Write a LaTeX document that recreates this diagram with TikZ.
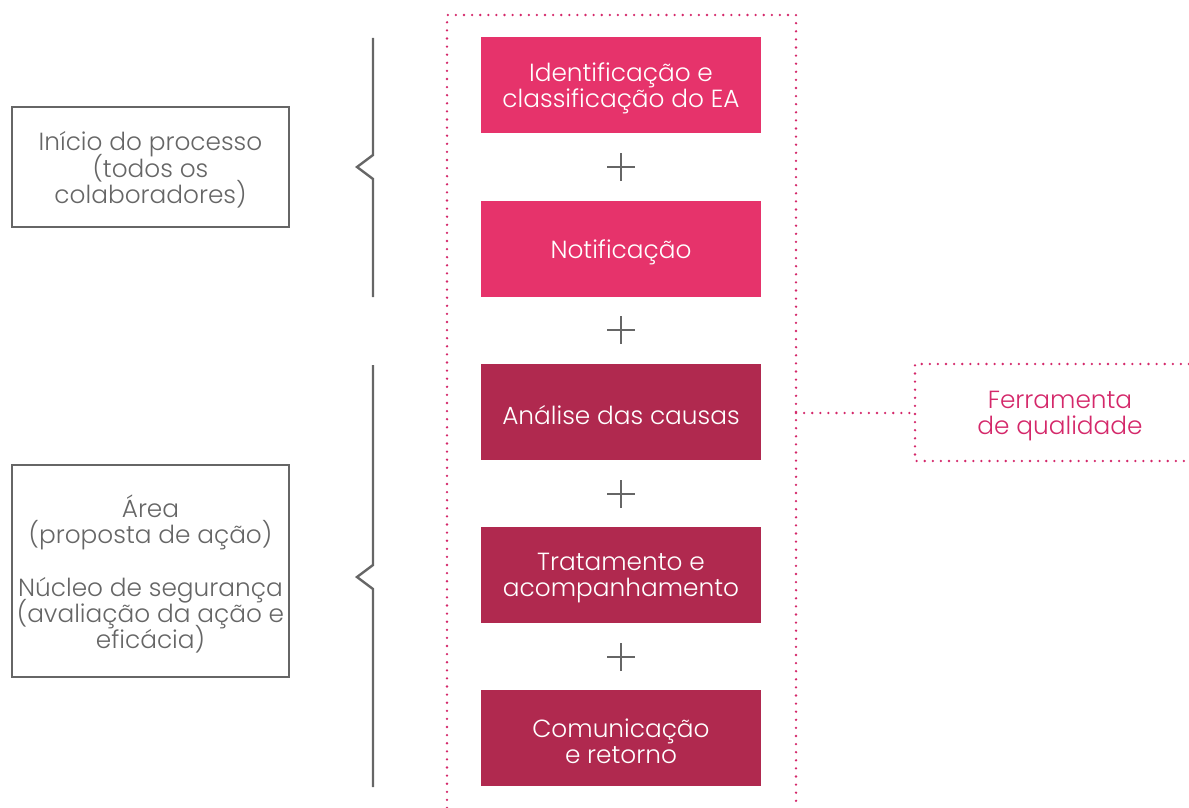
\documentclass[tikz,border=0pt]{standalone}
\usepackage{fontspec}
\setmainfont{Poppins Light}
\definecolor{pinkc}{HTML}{E6336B}
\definecolor{darkc}{HTML}{B0294F}
\definecolor{grayc}{HTML}{666666}
\definecolor{dotc}{HTML}{D4286A}
\newcommand{\fsz}{\fontsize{24.8pt}{26.3pt}\selectfont\lineskiplimit=-100pt\lineskip=0pt}
\tikzset{
  stepbox/.style={minimum width=280pt, minimum height=96pt, inner sep=0pt},
  pinkbox/.style={stepbox, fill=pinkc},
  darkbox/.style={stepbox, fill=darkc},
  steptext/.style={inner sep=0pt, align=center, text=white, font=\fsz, yshift=-3pt},
  sidebox/.style={draw=grayc, line width=2.4pt, minimum width=277pt, inner sep=0pt},
  sidetext/.style={inner sep=0pt, align=center, text=grayc, font=\fsz, yshift=-3pt},
  bracel/.style={draw=grayc, line width=2.4pt},
  plusl/.style={draw=grayc, line width=2.2pt},
  dotl/.style={draw=dotc, line width=2.6pt, line cap=round, dash pattern=on 0pt off 8.1pt},
}
\begin{document}
\begin{tikzpicture}[x=1pt,y=-1pt]
\useasboundingbox (0,0) rectangle (1189,808);
% steps
\node[pinkbox] (s1) at (621,85) {};
\node[pinkbox] (s2) at (621,249) {};
\node[darkbox] (s3) at (621,412) {};
\node[darkbox] (s4) at (621,575) {};
\node[darkbox] (s5) at (621,738) {};
\node[steptext] (t1) at (s1) {Identificação e\\classificação do EA};
\node[steptext] (t2) at (s2) {Notificação};
\node[steptext] (t3) at (s3) {Análise das causas};
\node[steptext] (t4) at (s4) {Tratamento e\\acompanhamento};
\node[steptext] (t5) at (s5) {Comunicação\\e retorno};
% plus signs
\foreach \n/\y in {p1/167,p2/330,p3/494,p4/657}{
  \coordinate (\n) at (621,\y);
  \draw[plusl] ([xshift=-14pt]\n) -- ([xshift=14pt]\n);
  \draw[plusl] ([yshift=-14pt]\n) -- ([yshift=14pt]\n);
}
% side boxes
\node[sidebox, minimum height=120pt] (l1) at (150.5,167) {};
\node[sidebox, minimum height=212pt] (l2) at (150.5,571) {};
\node[sidetext] (lt1) at (l1) {Início do processo\\(todos os\\colaboradores)};
\node[sidetext] (lt2) at (l2) {Área\\(proposta de ação)\\[26.3pt]Núcleo de segurança\\(avaliação da ação e\\eficácia)};
% braces
\draw[bracel] (373,38) -- (373,155) -- (357,167) -- (373,179) -- (373,297);
\draw[bracel] (373,365) -- (373,565) -- (357,577) -- (373,589) -- (373,787);
% outer dotted frame
\coordinate (ob) at (447,808);
\coordinate (otl) at (447,15);
\coordinate (otr) at (796,15);
\coordinate (obr) at (796,808);
\coordinate (oc) at (796,413);
\draw[dotl] (ob) -- (otl) -- (otr) -- (obr);
% quality tool box
\coordinate (ftr) at (1189,364);
\coordinate (ftl) at (915,364);
\coordinate (fbl) at (915,461);
\coordinate (fbr) at (1189,461);
\coordinate (fc) at (915,413);
\draw[dotl] (ftr) -- (ftl) -- (fbl) -- (fbr);
\node[sidetext, text=dotc] (ft) at (1060,413) {Ferramenta\\de qualidade};
\draw[dotl] (oc) -- (fc);
\end{tikzpicture}
\end{document}
